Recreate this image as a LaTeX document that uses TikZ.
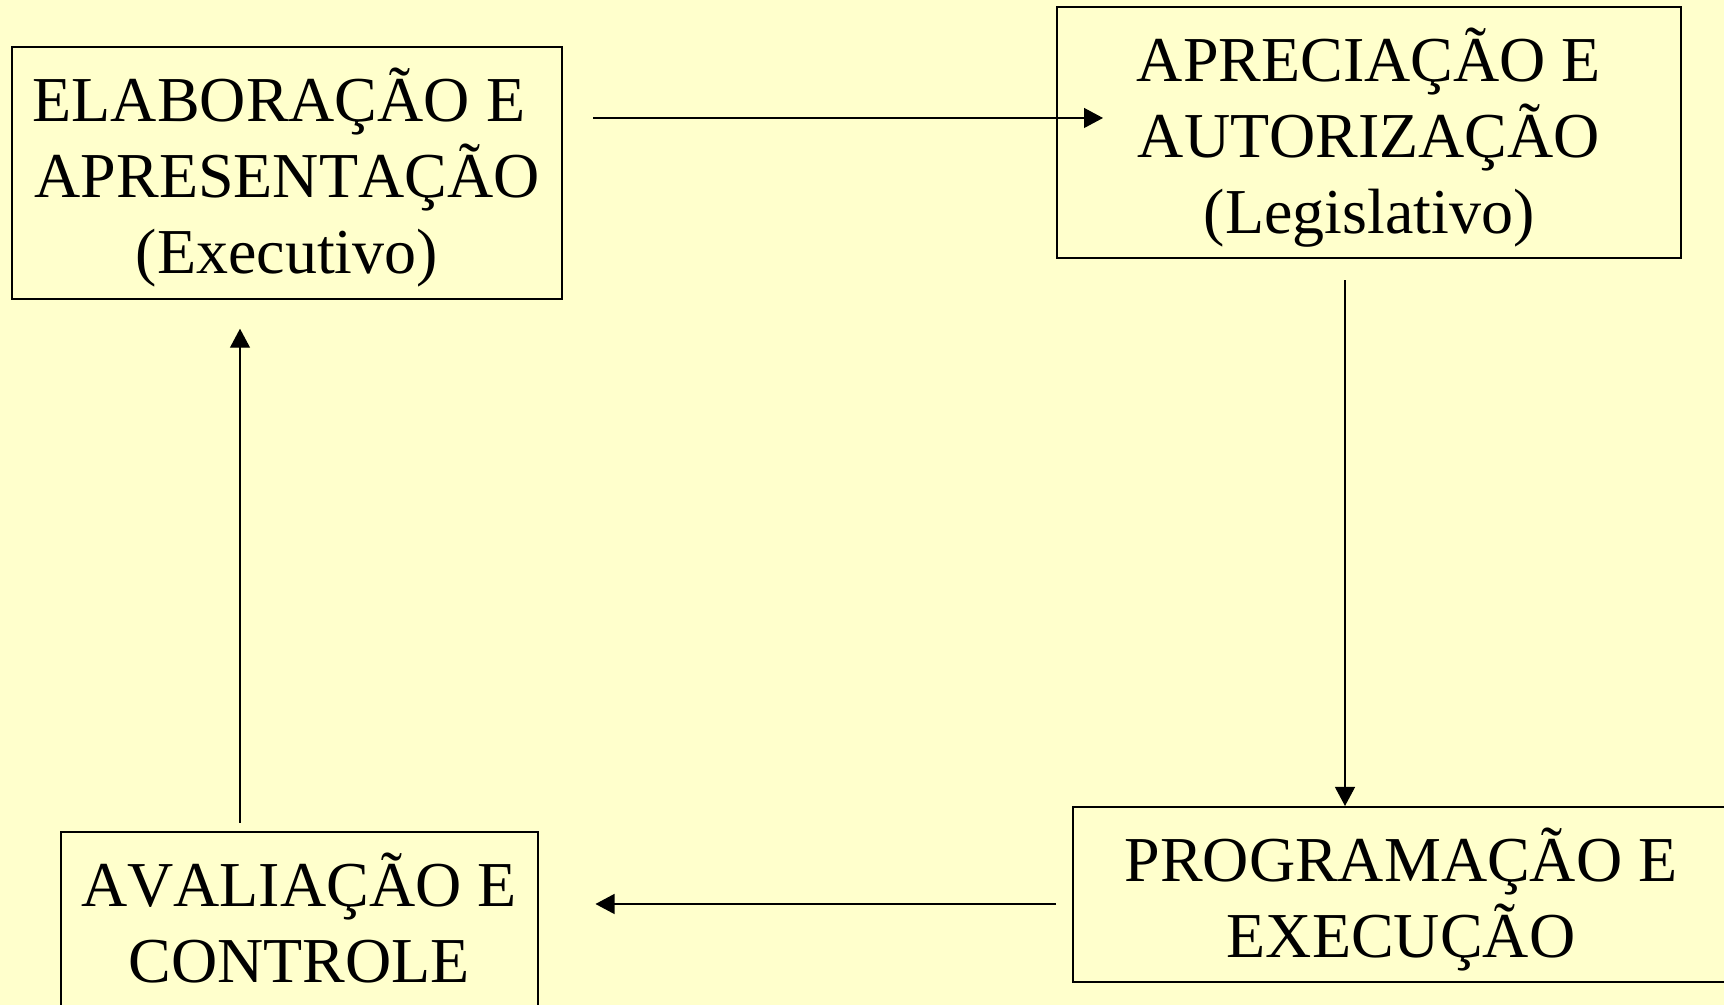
\documentclass[tikz,border=0pt]{standalone}
\usepackage{fontspec}
\setmainfont{Liberation Serif}[Kerning=Off]
\usetikzlibrary{
  arrows.meta,
  calc,
  positioning,
}
\definecolor{slideyellow}{HTML}{FFFFCC}
\tikzset{
  >={Triangle[length=9.5pt,width=10pt]},
  stagebox/.style={draw, line width=1pt, fill=slideyellow, align=center,
    inner sep=0pt, text depth=2pt, font=\fontsize{32}{38}\selectfont},
  flow/.style={->, line width=0.6pt},
}

\begin{document}
\begin{tikzpicture}[x=0.5pt,y=0.5pt]

        \fill [slideyellow] (0,0) rectangle (1724,1005);
        \useasboundingbox (0,0) rectangle (1724,1005);

        \node [stagebox, minimum width=275pt, minimum height=125.75pt] (elab) at (287,832)
              {ELABORAÇÃO E\hspace*{.25em}\\ APRESENTAÇÃO\\ (Executivo)};

        \node [stagebox, minimum width=312pt, minimum height=125.5pt] (apre) at (1369,872)
              {APRECIAÇÃO E\\ AUTORIZAÇÃO\\ (Legislativo)};

        \node [stagebox, minimum width=328pt, minimum height=87.5pt] (prog) at (1401,110.5)
              {PROGRAMAÇÃO E\\ EXECUÇÃO};

        \node [stagebox, minimum width=238.5pt, minimum height=88pt] (aval) at (299,85)
              {AVALIAÇÃO E\\ CONTROLE};

        \draw [flow] ($(elab.east)+(30,55)$) -- ($(apre.west)+(47,15)$);

        \draw [flow] ($(apre.south)+(-24,-21)$) -- ($(prog.north)+(-56,0)$);

        \draw [flow] ($(prog.west)+(-16,-9.5)$) -- ($(aval.east)+(57,16)$);

        \draw [flow] ($(aval.north)+(-59,8)$) -- ($(elab.south)+(-47,-29)$);
      \end{tikzpicture}
\end{document}
